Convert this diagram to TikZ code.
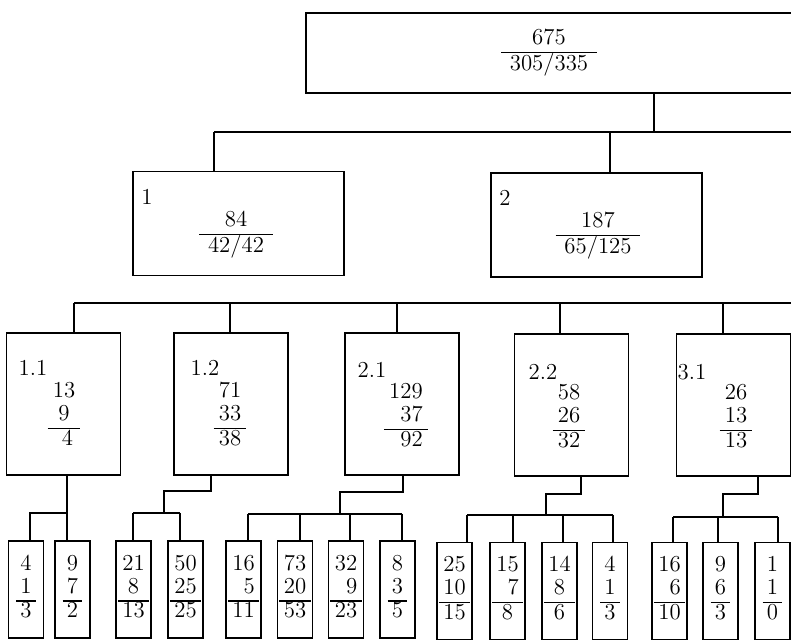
\documentclass[tikz,border=0pt]{standalone}
\usepackage{tikz}
\usepackage{array}
\renewcommand{\arraystretch}{0.82}
\setlength{\arrayrulewidth}{0.7pt}
\newcommand{\fracstack}[2]{\begin{tabular}{@{\hspace{5pt}}c@{\hspace{5pt}}}#1\\\hline #2\end{tabular}}
\newcommand{\rowstack}[3]{\begin{tabular}{@{\hspace{3pt}}c@{\hspace{3pt}}}#1\\#2\\\hline #3\end{tabular}}
\newcommand{\leafstack}[3]{\begin{tabular}{@{\hspace{2.5pt}}c@{\hspace{2.5pt}}}#1\\#2\\\hline #3\end{tabular}}
\tikzset{
  box/.style 2 args={draw, line width=0.9pt, inner sep=0pt,
    minimum width=#1*0.02cm, minimum height=#2*0.02cm},
  tree/.style={line width=0.9pt},
}

\begin{document}
\begin{tikzpicture}[x=0.02cm, y=-0.02cm, font=\fontsize{13}{16}\selectfont]
    \useasboundingbox (0,0) rectangle (791,641);
    \clip (0,0) rectangle (791,641);

    % boxes
    \node[box={594}{80}] (root) at (603,53) {};
    \begin{scope}[every node/.style={box={211}{104}}]
        \node (b1) at (238.5,223.5) {};
        \node (b2) at (596.5,225) {};
    \end{scope}
    \begin{scope}[every node/.style={box={114}{142}}]
        \node (b11) at (63.5,404) {};
        \node (b12) at (231,404) {};
        \node (b21) at (402,404) {};
        \node (b22) at (571.5,405) {};
        \node (b31) at (733.5,405) {};
    \end{scope}
    \begin{scope}[every node/.style={box={35}{97}}]
        \node (la) at (26,589.5)    {\leafstack{4}{1}{3}};
        \node (lb) at (72.5,589.5)  {\leafstack{9}{7}{2}};
        \node (lc) at (133.5,589.5) {\leafstack{21}{8}{13}};
        \node (ld) at (185.5,589.5) {\leafstack{50}{25}{25}};
        \node (le) at (243.5,589.5) {\leafstack{16}{\phantom{1}5}{11}};
        \node (lf) at (295,589.5)   {\leafstack{73}{20}{53}};
        \node (lg) at (346,589.5)   {\leafstack{32}{\phantom{3}9}{23}};
        \node (lh) at (397.5,589.5) {\leafstack{8}{3}{5}};
        \node (li) at (454.5,591)   {\leafstack{25}{10}{15}};
        \node (lj) at (507.5,591)   {\leafstack{15}{\phantom{1}7}{8}};
        \node (lk) at (559.5,591)   {\leafstack{14}{8}{6}};
        \node (ll) at (610,591)     {\leafstack{4}{1}{3}};
        \node (lm) at (669.5,591)   {\leafstack{16}{\phantom{1}6}{10}};
        \node (ln) at (720.5,591)   {\leafstack{9}{6}{3}};
        \node (lo) at (772.5,591)   {\leafstack{1}{1}{0}};
    \end{scope}

    % texts
    \node (rootval) at (549,53) {\fracstack{675}{305/335}};
    \node (b1tag) at (147,197) {1};
    \node (b1val) at (236,235) {\fracstack{84}{42/42}};
    \node (b2tag) at (505,198) {2};
    \node (b2val) at (598,236) {\fracstack{187}{65/125}};
    \node (b11tag) at (33,368)  {1.1};
    \node (b11val) at (64,417)  {\rowstack{13}{9}{\hspace{4pt}4}};
    \node (b12tag) at (205,368) {1.2};
    \node (b12val) at (230,417) {\rowstack{71}{33}{38}};
    \node (b21tag) at (372,370) {2.1};
    \node (b21val) at (406,418) {\rowstack{129}{\phantom{1}37}{\phantom{1}92}};
    \node (b22tag) at (543,372) {2.2};
    \node (b22val) at (569,419) {\rowstack{58}{26}{32}};
    \node (b31tag) at (692,372) {3.1};
    \node (b31val) at (736,419) {\rowstack{26}{13}{13}};

    % junctions
    \coordinate (r0) at (654,132);
    \coordinate (r1) at (214,132);
    \coordinate (r2) at (610,132);
    \coordinate (rend) at (800,132);
    \coordinate (s11) at (74,303);
    \coordinate (s12) at (230,303);
    \coordinate (s21) at (397,303);
    \coordinate (s22) at (560,303);
    \coordinate (s31) at (723,303);
    \coordinate (send) at (800,303);
    \coordinate (u11) at (67,513);
    \coordinate (w11) at (30,513);
    \coordinate (u12) at (211,491);
    \coordinate (v12) at (164,491);
    \coordinate (w12a) at (133,513);
    \coordinate (w12b) at (180,513);
    \coordinate (u21) at (403,492);
    \coordinate (v21) at (340,492);
    \coordinate (w21a) at (248,514);
    \coordinate (w21b) at (300,514);
    \coordinate (w21c) at (350,514);
    \coordinate (w21d) at (402,514);
    \coordinate (u22) at (581,494);
    \coordinate (v22) at (546,494);
    \coordinate (w22a) at (467,515);
    \coordinate (w22b) at (513,515);
    \coordinate (w22c) at (563,515);
    \coordinate (w22d) at (613,515);
    \coordinate (u31) at (758,494);
    \coordinate (v31) at (723,494);
    \coordinate (w31a) at (673,517);
    \coordinate (w31b) at (718,517);
    \coordinate (w31c) at (778,517);

    \begin{scope}[tree]
        \draw (root.south -| r0) -- (r0);
        \draw (r1) -- (rend);
        \draw (r1) -- (b1.north -| r1);
        \draw (r2) -- (b2.north -| r2);

        \draw (s11) -- (send);
        \draw (s11) -- (b11.north -| s11);
        \draw (s12) -- (b12.north -| s12);
        \draw (s21) -- (b21.north -| s21);
        \draw (s22) -- (b22.north -| s22);
        \draw (s31) -- (b31.north -| s31);

        \draw (b11.south -| u11) -- (lb.north -| u11);
        \draw (u11) -- (w11) -- (la.north -| w11);

        \draw (b12.south -| u12) -- (u12) -- (v12) -- (v12 |- w12a);
        \draw (w12a) -- (w12b);
        \draw (w12a) -- (lc.north -| w12a);
        \draw (w12b) -- (ld.north -| w12b);

        \draw (b21.south -| u21) -- (u21) -- (v21) -- (v21 |- w21a);
        \draw (w21a) -- (w21d);
        \draw (w21a) -- (le.north -| w21a);
        \draw (w21b) -- (lf.north -| w21b);
        \draw (w21c) -- (lg.north -| w21c);
        \draw (w21d) -- (lh.north -| w21d);

        \draw (b22.south -| u22) -- (u22) -- (v22) -- (v22 |- w22a);
        \draw (w22a) -- (w22d);
        \draw (w22a) -- (li.north -| w22a);
        \draw (w22b) -- (lj.north -| w22b);
        \draw (w22c) -- (lk.north -| w22c);
        \draw (w22d) -- (ll.north -| w22d);

        \draw (b31.south -| u31) -- (u31) -- (v31) -- (v31 |- w31a);
        \draw (w31a) -- (w31c);
        \draw (w31a) -- (lm.north -| w31a);
        \draw (w31b) -- (ln.north -| w31b);
        \draw (w31c) -- (lo.north -| w31c);
    \end{scope}
\end{tikzpicture}
\end{document}
